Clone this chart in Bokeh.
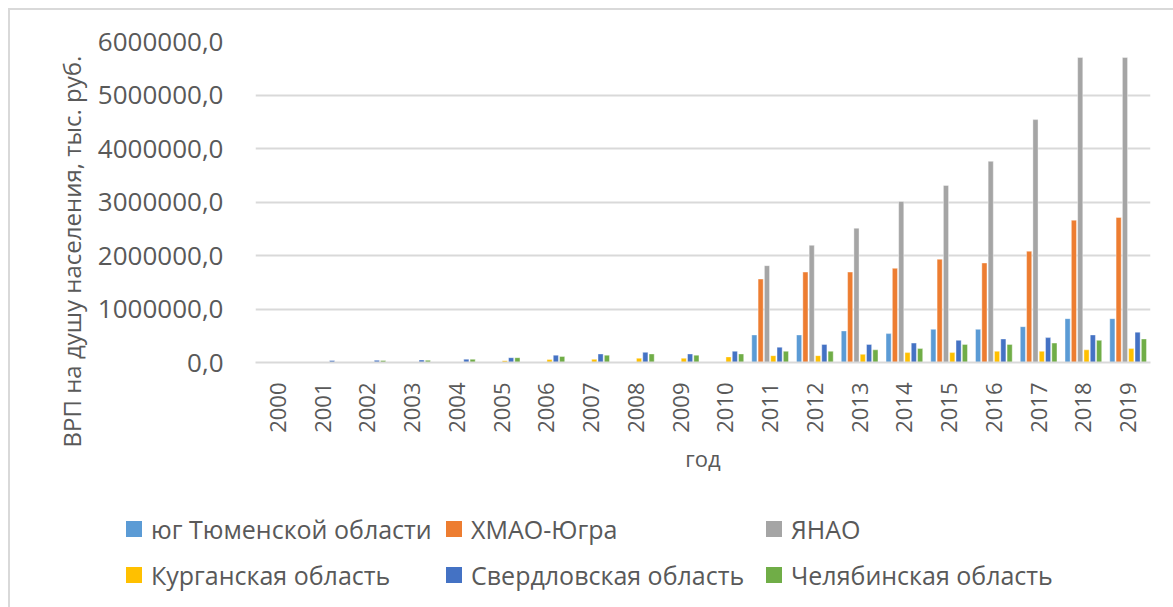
from math import pi
from bokeh.plotting import figure
from bokeh.layouts import column
from bokeh.models import (ColumnDataSource, FactorRange, Range1d, Div,
                          CustomJSTickFormatter, FixedTicker, Title)
from bokeh.transform import dodge
from bokeh.embed import file_html
from bokeh.resources import INLINE

years = [str(y) for y in range(2000, 2020)]

yug_tyumen = [0, 0, 0, 0, 0, 0, 0, 0, 0, 0, 0,
              515000, 515000, 590000, 540000, 620000, 620000, 670000, 820000, 820000]
hmao = [0, 0, 0, 0, 0, 0, 0, 0, 0, 0, 0,
        1560000, 1690000, 1690000, 1760000, 1930000, 1860000, 2080000, 2660000, 2710000]
yanao = [0, 0, 0, 0, 0, 0, 0, 0, 0, 0, 0,
         1810000, 2190000, 2510000, 3010000, 3310000, 3760000, 4540000, 5700000, 5700000]
kurgan = [0, 0, 0, 0, 0, 35000, 55000, 60000, 80000, 80000, 105000,
          128000, 128000, 153000, 185000, 185000, 210000, 210000, 237000, 260000]
sverdl = [0, 37000, 42000, 47000, 62000, 90000, 137000, 160000, 190000, 160000, 210000,
          286000, 338000, 338000, 363000, 414000, 440000, 465000, 515000, 567000]
chel = [0, 0, 38000, 42000, 60000, 90000, 112000, 137000, 160000, 137000, 160000,
        210000, 210000, 237000, 260000, 338000, 338000, 363000, 414000, 440000]

series_names = ["юг Тюменской области", "ХМАО-Югра", "ЯНАО",
                "Курганская область", "Свердловская область", "Челябинская область"]
series_keys = ["yug", "hmao", "yanao", "kurgan", "sverdl", "chel"]
series_colors = ["#5B9BD5", "#ED7D31", "#A5A5A5", "#FFC000", "#4472C4", "#70AD47"]
y_ticks = [0, 1000000, 2000000, 3000000, 4000000, 5000000, 6000000]

src = ColumnDataSource(dict(year=years, yug=yug_tyumen, hmao=hmao, yanao=yanao,
                            kurgan=kurgan, sverdl=sverdl, chel=chel))

FONT = "Open Sans"
TXT = "#595959"

p = figure(x_range=FactorRange(*years), y_range=Range1d(0, 6000000),
           width=1155, height=470, output_backend="svg", toolbar_location=None,
           min_border_left=245, min_border_right=15, min_border_top=31, min_border_bottom=118)

pitch = 0.141
for i, (k, c) in enumerate(zip(series_keys, series_colors)):
    off = (i - 2.5) * pitch
    p.vbar(x=dodge("year", off, range=p.x_range), top=k, width=0.115, source=src,
           fill_color=c, line_color="white", line_width=0.4)

p.outline_line_color = None
p.xgrid.visible = False
p.ygrid.grid_line_color = "#d9d9d9"
p.ygrid.grid_line_width = 2

p.yaxis.ticker = FixedTicker(ticks=y_ticks)
p.yaxis.formatter = CustomJSTickFormatter(code="return tick.toFixed(1).replace('.', ',');")
p.yaxis.axis_line_color = None
p.yaxis.major_tick_line_color = None
p.yaxis.minor_tick_line_color = None
p.yaxis.major_label_standoff = 26
p.yaxis.major_label_text_font = FONT
p.yaxis.major_label_text_font_size = "26px"
p.yaxis.major_label_text_color = TXT

ytitle = Title(text="ВРП на душу населения, тыс. руб.", align="left", offset=-85,
               standoff=14, text_font=FONT, text_font_size="24px",
               text_font_style="normal", text_color=TXT)
p.add_layout(ytitle, "left")

p.xaxis.axis_line_color = "#d9d9d9"
p.xaxis.axis_line_width = 2
p.xaxis.major_tick_line_color = None
p.xaxis.minor_tick_line_color = None
p.xaxis.major_label_orientation = pi / 2
p.xaxis.major_label_standoff = 14
p.xaxis.major_label_text_font = FONT
p.xaxis.major_label_text_font_size = "22px"
p.xaxis.major_label_text_color = TXT
p.xaxis.axis_label = "год"
p.xaxis.axis_label_text_font = FONT
p.xaxis.axis_label_text_font_size = "22px"
p.xaxis.axis_label_text_font_style = "normal"
p.xaxis.axis_label_text_color = TXT
p.xaxis.axis_label_standoff = 7

# legend: 3 columns x 2 rows below the chart
parts = []
for i, (name, color) in enumerate(zip(series_names, series_colors)):
    col, row = i % 3, i // 3
    left = 111 + col * 320
    top = 27 + row * 46
    parts.append(
        f'<div style="position:absolute;left:{left}px;top:{top}px;height:34px;'
        f'display:flex;align-items:center;white-space:nowrap;">'
        f'<span style="display:inline-block;width:16px;height:16px;background:{color};'
        f'margin-right:9px;"></span>{name}</div>')
legend_html = (f'<div style="position:relative;width:1155px;height:117px;'
               f'font-family:\'{FONT}\';font-size:25px;color:{TXT};line-height:34px;">'
               + "".join(parts) + '</div>')
legend_div = Div(text=legend_html, width=1155, height=117)

layout = column(p, legend_div, margin=(8, 0, 0, 8),
                styles={"border-left": "2px solid #d9d9d9", "border-top": "2px solid #d9d9d9"})

open("out.html", "w").write(file_html(layout, INLINE))
